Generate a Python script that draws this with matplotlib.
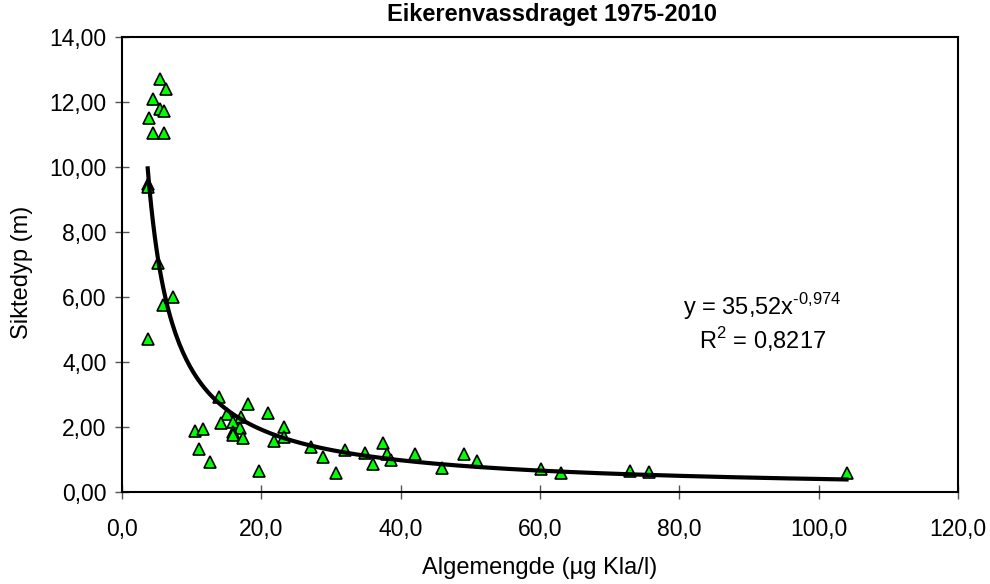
import numpy as np
import matplotlib
matplotlib.use("Agg")
import matplotlib.pyplot as plt
from matplotlib.ticker import FuncFormatter, MultipleLocator

plt.rcParams['font.family'] = ['Liberation Sans', 'DejaVu Sans']
plt.rcParams['mathtext.fontset'] = 'custom'
plt.rcParams['mathtext.rm'] = 'Liberation Sans'

# Algemengde (ug Kla/l) vs siktedyp (m)
alge = [5.45, 6.3, 4.4, 5.45, 6.08, 3.92, 4.4, 6.08, 3.69, 3.69,
        5.2, 7.37, 5.93, 3.69,
        13.97, 18.13, 15.02, 17.08, 21.0, 14.2, 15.98, 16.94, 15.98, 15.98,
        17.32, 10.48, 11.58, 11.1, 12.63, 19.66, 23.29, 23.29, 21.86, 27.07,
        28.9, 30.65, 32.0, 34.9, 37.5, 38.1, 36.0, 38.6, 42.05,
        45.9, 49.1, 50.9, 60.1, 63.05, 72.9, 75.6, 104.0]
sikt = [12.71, 12.39, 12.08, 11.80, 11.73, 11.51, 11.06, 11.06, 9.48, 9.38,
        7.04, 5.99, 5.74, 4.70,
        2.91, 2.71, 2.39, 2.32, 2.42, 2.11, 2.16, 1.98, 1.86, 1.75,
        1.65, 1.89, 1.94, 1.32, 0.93, 0.66, 2.01, 1.70, 1.58, 1.39,
        1.09, 0.59, 1.29, 1.19, 1.52, 1.17, 0.86, 0.98, 1.17,
        0.73, 1.16, 0.96, 0.71, 0.57, 0.66, 0.63, 0.57]

# power trendline shown in the chart
coef_a = 35.52
coef_b = -0.974
r2 = 0.8217

W, H = 990, 584
fig = plt.figure(figsize=(W / 100, H / 100), dpi=100)
ax = fig.add_axes([122/W, 1 - 492/H, (958-122)/W, (492-37)/H])

ax.plot(alge, sikt, linestyle='none', marker='^', markersize=9,
        markerfacecolor='#00ff00', markeredgecolor='black',
        markeredgewidth=1.2, zorder=2, clip_on=False)

xs = np.linspace(min(alge), max(alge), 400)
ax.plot(xs, coef_a * xs ** coef_b, color='black', linewidth=3, zorder=3)

ax.set_xlim(0, 120)
ax.set_ylim(0, 14)
ax.xaxis.set_major_locator(MultipleLocator(20))
ax.yaxis.set_major_locator(MultipleLocator(2))
ax.xaxis.set_major_formatter(FuncFormatter(lambda v, p: f"{v:.1f}".replace('.', ',')))
ax.yaxis.set_major_formatter(FuncFormatter(lambda v, p: f"{v:.2f}".replace('.', ',')))
ax.tick_params(direction='inout', length=10, width=1, color='#555555',
               labelsize=16.5)
ax.tick_params(axis='x', pad=14)
ax.tick_params(axis='y', pad=6)
for s in ax.spines.values():
    s.set_linewidth(1.5)
    s.set_color('black')

fig.text(540/W, 1 - 568/H, 'Algemengde (µg Kla/l)', ha='center', va='center',
         fontsize=17)
fig.text(22/W, 1 - 272/H, 'Siktedyp (m)', ha='center', va='center',
         rotation=90, fontsize=17)
fig.text(552/W, 1 - 15/H, 'Eikerenvassdraget 1975-2010', ha='center',
         va='center', fontsize=17, fontweight='bold')

eq = 'y = ' + f"{coef_a}".replace('.', ',') + 'x' + \
     r'$^{\text{' + f"{coef_b}".replace('.', ',') + '}}$'
fig.text(762/W, 1 - 307/H, eq, ha='center', va='center', fontsize=17)
fig.text(763/W, 1 - 340/H, 'R$^{\\text{2}}$ = ' + f"{r2}".replace('.', ','),
         ha='center', va='center', fontsize=17)

fig.savefig('out.png', dpi=100)
